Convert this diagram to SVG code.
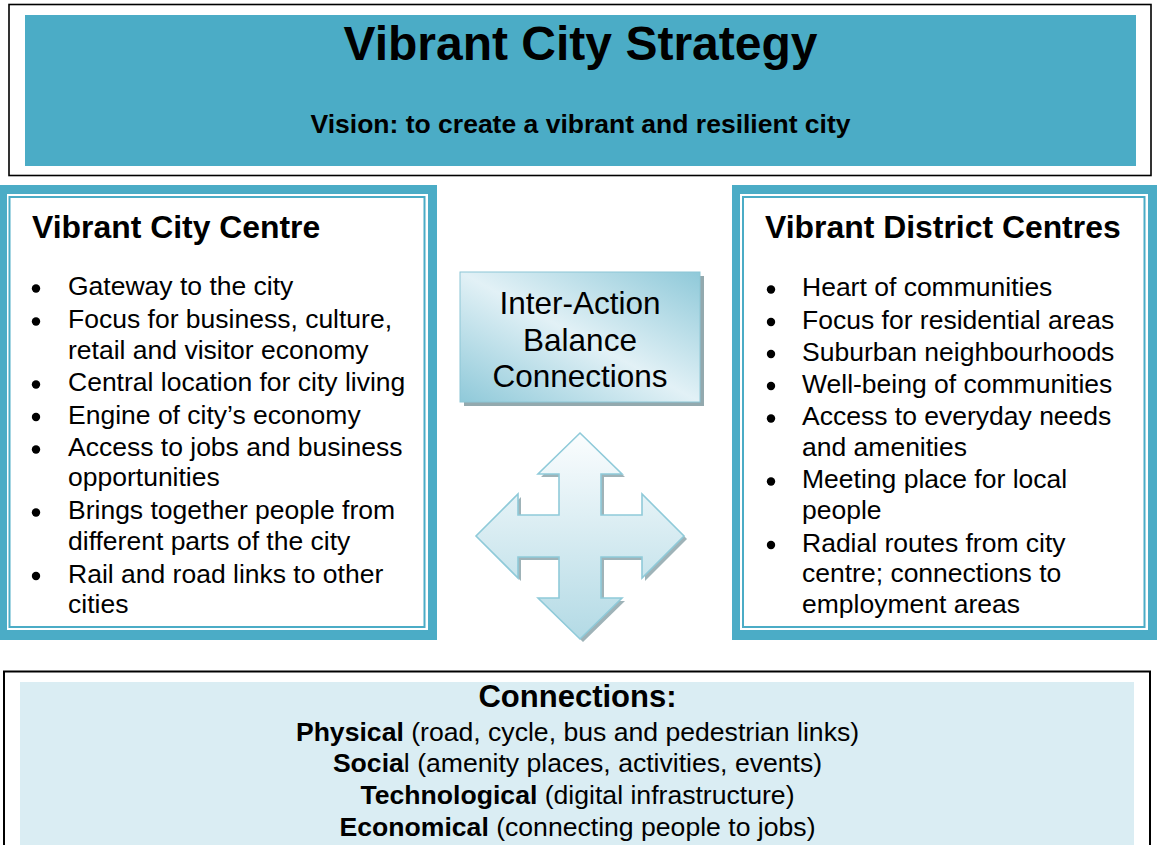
<svg xmlns="http://www.w3.org/2000/svg" width="1159" height="845" viewBox="0 0 1159 845">
  <style>
    text { font-family: "Liberation Sans", Arial, sans-serif; fill: #000; }
    .title { font-size: 48px; font-weight: bold; text-anchor: middle; }
    .vision { font-size: 26.5px; font-weight: bold; text-anchor: middle; }
    .head { font-size: 31.9px; font-weight: bold; }
    .item { font-size: 26.5px; }
    .mid { font-size: 31.5px; text-anchor: middle; }
    .conn { font-size: 26.6px; text-anchor: middle; }
    .connh { font-size: 31px; font-weight: bold; text-anchor: middle; }
    .b { font-weight: bold; }
    .band { fill: #4BACC6; }
    .inner { fill: #FFFFFF; }
    .line { fill: none; stroke: #4BACC6; stroke-width: 2; }
    .dot { fill: #000; }
  </style>
  <defs>
    <linearGradient id="boxGrad" x1="1" y1="0" x2="0" y2="1">
      <stop offset="0" stop-color="#8FC9D9"/>
      <stop offset="0.5" stop-color="#E2F1F6"/>
      <stop offset="1" stop-color="#8FC9D9"/>
    </linearGradient>
    <linearGradient id="arrowGrad" x1="0" y1="0" x2="0" y2="1">
      <stop offset="0" stop-color="#FBFDFE"/>
      <stop offset="1" stop-color="#B3DAE5"/>
    </linearGradient>
    <path id="cross" d="M580,433 L622,474 L601,474 L601,515 L642,515 L642,494 L684,536 L642,578 L642,557 L601,557 L601,598 L622,598 L580,639 L538,598 L559,598 L559,557 L518,557 L518,578 L476,536 L518,494 L518,515 L559,515 L559,474 L538,474 Z"/>
  </defs>
  <rect x="0" y="0" width="1159" height="845" fill="#FFFFFF"/>

  <g id="header">
    <rect x="9" y="4.5" width="1142" height="171" fill="#FFFFFF" stroke="#000" stroke-width="1.6"/>
    <rect x="25" y="15" width="1111" height="151" fill="#4BACC6"/>
    <text class="title" x="580.5" y="60">Vibrant City Strategy</text>
    <text class="vision" x="580.5" y="133">Vision: to create a vibrant and resilient city</text>
  </g>

  <g id="city-centre">
    <rect class="band" x="-2" y="185" width="439" height="455"/>
    <rect class="inner" x="7" y="194" width="421" height="436"/>
    <rect class="line" x="9.5" y="197" width="415" height="430"/>
    <text class="head" x="32" y="238">Vibrant City Centre</text>
    <g class="item">
      <circle class="dot" cx="36" cy="288.5" r="4.2"/>
      <text class="item" x="68" y="295">Gateway to the city</text>
      <circle class="dot" cx="36" cy="321.5" r="4.2"/>
      <text class="item" x="68" y="328">Focus for business, culture,</text>
      <text class="item" x="68" y="358.5">retail and visitor economy</text>
      <circle class="dot" cx="36" cy="384.5" r="4.2"/>
      <text class="item" x="68" y="391">Central location for city living</text>
      <circle class="dot" cx="36" cy="417" r="4.2"/>
      <text class="item" x="68" y="423.5">Engine of city’s economy</text>
      <circle class="dot" cx="36" cy="449.5" r="4.2"/>
      <text class="item" x="68" y="456">Access to jobs and business</text>
      <text class="item" x="68" y="486">opportunities</text>
      <circle class="dot" cx="36" cy="512.5" r="4.2"/>
      <text class="item" x="68" y="519">Brings together people from</text>
      <text class="item" x="68" y="549.5">different parts of the city</text>
      <circle class="dot" cx="36" cy="576" r="4.2"/>
      <text class="item" x="68" y="582.5">Rail and road links to other</text>
      <text class="item" x="68" y="612.5">cities</text>
    </g>
  </g>

  <g id="district-centres">
    <rect class="band" x="732" y="185" width="425" height="455"/>
    <rect class="inner" x="740" y="194" width="408" height="436"/>
    <rect class="line" x="743" y="197" width="401.5" height="430"/>
    <text class="head" x="765" y="238">Vibrant District Centres</text>
    <g class="item">
      <circle class="dot" cx="771" cy="289.5" r="4.2"/>
      <text class="item" x="802" y="296">Heart of communities</text>
      <circle class="dot" cx="771" cy="322" r="4.2"/>
      <text class="item" x="802" y="328.5">Focus for residential areas</text>
      <circle class="dot" cx="771" cy="354" r="4.2"/>
      <text class="item" x="802" y="360.5">Suburban neighbourhoods</text>
      <circle class="dot" cx="771" cy="386" r="4.2"/>
      <text class="item" x="802" y="392.5">Well-being of communities</text>
      <circle class="dot" cx="771" cy="418.5" r="4.2"/>
      <text class="item" x="802" y="425">Access to everyday needs</text>
      <text class="item" x="802" y="456">and amenities</text>
      <circle class="dot" cx="771" cy="481.5" r="4.2"/>
      <text class="item" x="802" y="488">Meeting place for local</text>
      <text class="item" x="802" y="519">people</text>
      <circle class="dot" cx="771" cy="545" r="4.2"/>
      <text class="item" x="802" y="551.5">Radial routes from city</text>
      <text class="item" x="802" y="582">centre; connections to</text>
      <text class="item" x="802" y="612.5">employment areas</text>
    </g>
  </g>

  <g id="interaction">
    <rect x="464" y="276" width="240" height="130" fill="#93A9AE"/>
    <rect x="460" y="272" width="240" height="130" fill="url(#boxGrad)" stroke="#8CC6D5" stroke-width="1"/>
    <text class="mid" x="580" y="314">Inter-Action</text>
    <text class="mid" x="580" y="350.5">Balance</text>
    <text class="mid" x="580" y="387">Connections</text>
  </g>

  <g id="connectors">
    <use href="#cross" transform="translate(3,3)" fill="#9FB3B8"/>
    <use href="#cross" fill="url(#arrowGrad)" stroke="#8FCAD9" stroke-width="1.6" stroke-linejoin="miter"/>
  </g>

  <g id="connections">
    <rect x="4" y="671.5" width="1146" height="185" fill="#FFFFFF" stroke="#000" stroke-width="2"/>
    <rect x="20" y="682" width="1114" height="170" fill="#DAEDF3"/>
    <text class="connh" x="577.5" y="707">Connections:</text>
    <text class="conn" x="577.5" y="740.5"><tspan class="b">Physical</tspan> (road, cycle, bus and pedestrian links)</text>
    <text class="conn" x="577.5" y="772"><tspan class="b">Socia</tspan>l (amenity places, activities, events)</text>
    <text class="conn" x="577.5" y="804"><tspan class="b">Technological</tspan> (digital infrastructure)</text>
    <text class="conn" x="577.5" y="836"><tspan class="b">Economical</tspan> (connecting people to jobs)</text>
  </g>
</svg>
